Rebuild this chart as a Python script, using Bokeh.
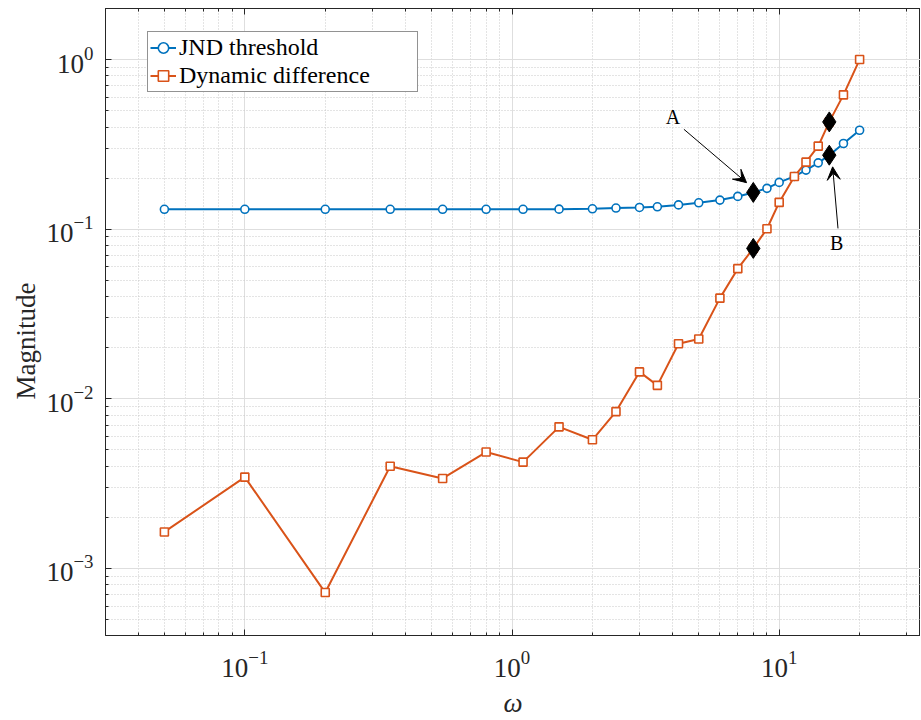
from bokeh.plotting import figure
from bokeh.models import (LogTicker, LogAxis, Arrow, VeeHead, Range1d, Legend, Title)
from bokeh.core.properties import value
from bokeh.embed import file_html
from bokeh.resources import INLINE

# ---------------- data ----------------
omega = [0.05, 0.1, 0.2, 0.35, 0.55, 0.8, 1.1, 1.5, 2.0, 2.45, 3.0, 3.5, 4.2,
         5.0, 6.0, 7.0, 8.0, 9.0, 10.0, 11.4, 12.6, 14.0, 15.4, 17.4, 20.0]
jnd = [0.131, 0.131, 0.131, 0.131, 0.131, 0.131, 0.131, 0.1312, 0.1318, 0.1332,
       0.1343, 0.1355, 0.139, 0.143, 0.1484, 0.156, 0.1647, 0.174, 0.1887,
       0.2046, 0.2229, 0.246, 0.273, 0.32, 0.383]
dyn = [0.00164, 0.00345, 0.00072, 0.0040, 0.00339, 0.00485, 0.00423, 0.00683,
       0.00573, 0.0084, 0.0144, 0.0120, 0.0211, 0.0225, 0.0392, 0.0585, 0.077,
       0.1005, 0.1438, 0.2046, 0.2484, 0.3086, 0.429, 0.619, 1.0]

# highlighted points (diamonds)
mark_x = [8.0, 8.0, 15.4, 15.4]
mark_y = [0.1647, 0.077, 0.273, 0.429]

labels = ["JND threshold", "Dynamic difference"]
annot_text = ["A", "B"]
x_title = "ω"
y_title = "Magnitude"

BLUE = "#0072BD"
ORANGE = "#D95319"
FONT = "Liberation Serif"
AXC = "#262626"

p = figure(width=920, height=720, x_axis_type="log", y_axis_type="log",
           x_range=Range1d(0.0301, 33.8), y_range=Range1d(4.02e-4, 2.0),
           output_backend="svg", toolbar_location=None,
           min_border_left=105, min_border_right=0, min_border_top=8,
           min_border_bottom=84)
p.outline_line_color = AXC
p.outline_line_width = 1
p.background_fill_color = "white"
p.border_fill_color = "white"

xt = LogTicker(mantissas=[1], desired_num_ticks=4, num_minor_ticks=10)
yt = LogTicker(mantissas=[1], desired_num_ticks=5, num_minor_ticks=10)
p.xaxis.ticker = xt
p.yaxis.ticker = yt
p.xgrid.ticker = xt
p.ygrid.ticker = yt

for ax in (p.xaxis[0], p.yaxis[0]):
    ax.major_label_text_font = FONT
    ax.major_label_text_font_size = "27px"
    ax.major_label_text_color = AXC
    ax.axis_label_text_font = FONT
    ax.axis_label_text_font_size = "27px"
    ax.axis_label_text_font_style = "normal"
    ax.axis_label_text_color = AXC
    ax.axis_line_color = AXC
    ax.major_tick_line_color = AXC
    ax.minor_tick_line_color = AXC
    ax.major_tick_in = 6
    ax.major_tick_out = 0
    ax.minor_tick_in = 3
    ax.minor_tick_out = 0

p.xaxis.axis_label = x_title
p.xaxis.axis_label_text_font_style = "italic"
p.xaxis.major_label_standoff = 15
p.xaxis.axis_label_standoff = 8
p.yaxis.major_label_standoff = 12

# y title, placed like the reference (a little below the frame centre)
ytitle = Title(text=y_title, align="left", offset=236, standoff=6,
               text_font=FONT, text_font_size="27px", text_font_style="normal",
               text_color=AXC)
p.add_layout(ytitle, "left")

top = LogAxis(ticker=xt, major_label_text_font_size="1px", major_label_text_alpha=0,
              major_label_standoff=0,
              axis_line_color=AXC, major_tick_line_color=AXC, minor_tick_line_color=AXC,
              major_tick_in=6, major_tick_out=0, minor_tick_in=3, minor_tick_out=0)
p.add_layout(top, "above")

for g in (p.xgrid[0], p.ygrid[0]):
    g.grid_line_color = "#dedede"
    g.grid_line_width = 1
    g.minor_grid_line_color = "#c8c8c8"
    g.minor_grid_line_dash = "1 2"
    g.minor_grid_line_width = 1

l1 = p.line(omega, jnd, color=BLUE, line_width=2)
s1 = p.scatter(omega, jnd, marker="circle", size=8, line_color=BLUE, line_width=1.6,
               fill_color="white")
l2 = p.line(omega, dyn, color=ORANGE, line_width=2)
s2 = p.scatter(omega, dyn, marker="square", size=8, line_color=ORANGE, line_width=1.6,
               fill_color="white")

p.scatter(mark_x, mark_y, marker="diamond", size=20, fill_color="black",
          line_color="black")

# annotations
p.add_layout(Arrow(end=VeeHead(size=13, fill_color="black", line_color="black"),
                   x_start=4.4, y_start=0.388, x_end=7.55, y_end=0.188,
                   line_color="black", line_width=1))
p.add_layout(Arrow(end=VeeHead(size=13, fill_color="black", line_color="black"),
                   x_start=16.6, y_start=0.101, x_end=15.85, y_end=0.233,
                   line_color="black", line_width=1))
p.text(x=[4.0, 16.4], y=[0.46, 0.0825], text=annot_text,
       text_font=value(FONT), text_font_size="20px", text_color="black",
       text_align="center", text_baseline="middle")

legend = Legend(items=[(labels[0], [l1, s1]), (labels[1], [l2, s2])],
                location=(42, 543))
legend.label_text_font = FONT
legend.label_text_font_size = "24px"
legend.label_text_color = "black"
legend.glyph_width = 26
legend.glyph_height = 27
legend.label_height = 27
legend.label_width = 236
legend.label_standoff = 3
legend.spacing = 1
legend.padding = 2
legend.margin = 0
legend.border_line_color = AXC
legend.border_line_width = 1
legend.background_fill_alpha = 1
p.add_layout(legend)

open("out.html", "w").write(file_html(p, INLINE))
